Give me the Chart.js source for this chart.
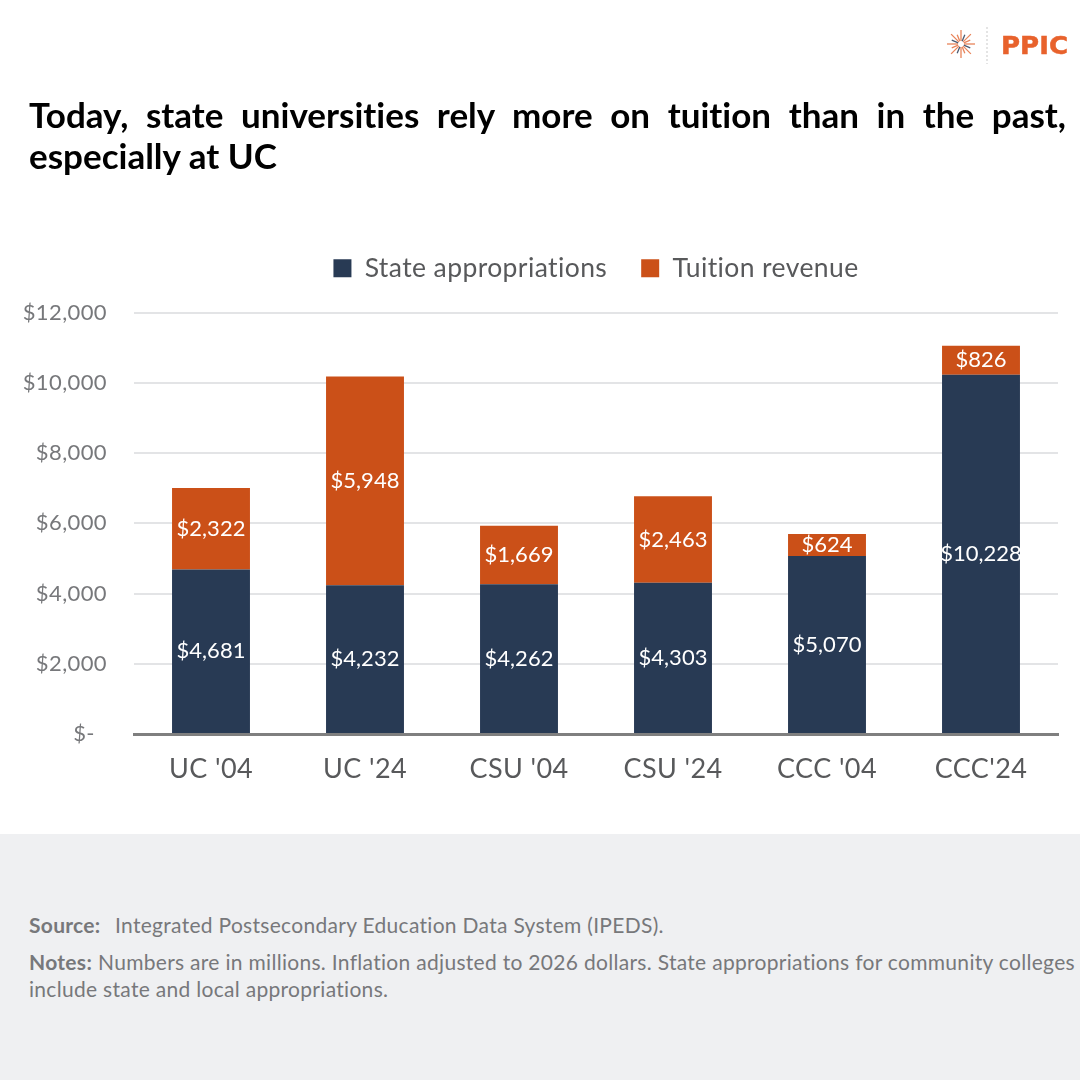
<!DOCTYPE html>
<html>
<head>
<meta charset="utf-8">
<script src="https://cdn.jsdelivr.net/npm/chart.js@4"></script>
<style>
  html, body { margin: 0; padding: 0; background: #fff; }
  body { width: 1080px; height: 1080px; position: relative; overflow: hidden; font-family: Lato, sans-serif; font-variant-ligatures: none; }
  #chartBox { position: absolute; left: 0; top: 0; width: 1080px; height: 834px; }
  #title { position: absolute; left: 29px; top: 94px; width: 1037px; font-size: 35px; line-height: 41px; font-weight: 700; color: #000; text-align: justify; }
  #footer { position: absolute; left: 0; top: 834px; width: 1080px; height: 246px; background: #eff0f2; color: #77787b; font-size: 21px; letter-spacing: .3px; }
  #footer div { position: absolute; left: 29px; width: 1050px; line-height: 27px; }
  #footer b { font-weight: 700; display: inline-block; }
  #logo { position: absolute; left: 940px; top: 20px; }
</style>
</head>
<body>
<div id="chartBox"><canvas id="myChart"></canvas></div>
<div id="title">Today, state universities rely more on tuition than in the past, especially at UC</div>
<svg id="logo" width="140" height="48" viewBox="0 0 140 48">
  <g id="burst" stroke-width="1.3"></g>
  <line x1="47" y1="7" x2="47" y2="44" stroke="#c9c9c9" stroke-dasharray="2 2"></line>
  <text x="61" y="34" font-family="DejaVu Sans" font-weight="700" font-size="25" fill="#e8622c" stroke="#e8622c" stroke-width=".5" textLength="67" lengthAdjust="spacingAndGlyphs">PPIC</text>
</svg>
<div id="footer">
  <div style="top:77px"><b style="width:86px">Source:</b>Integrated Postsecondary Education Data System (IPEDS).</div>
  <div style="top:114px"><b style="width:69px">Notes:</b>Numbers are in millions. Inflation adjusted to 2026 dollars. State appropriations for community colleges include state and local appropriations.</div>
</div>
<script>
const categories = ["UC '04", "UC '24", "CSU '04", "CSU '24", "CCC '04", "CCC'24"];
const stateAppropriations = [4681, 4232, 4262, 4303, 5070, 10228];
const tuitionRevenue = [2322, 5948, 1669, 2463, 624, 826];
const seriesNames = ["State appropriations", "Tuition revenue"];

// the little star in the logo
const burst = document.getElementById("burst");
for (let i = 0; i < 16; i++) {
  const a = i * Math.PI / 8;
  const r = i % 2 ? 10 : 14;
  const l = document.createElementNS("http://www.w3.org/2000/svg", "line");
  l.setAttribute("x1", 21 + Math.cos(a) * 3);
  l.setAttribute("y1", 24 + Math.sin(a) * 3);
  l.setAttribute("x2", 21 + Math.cos(a) * r);
  l.setAttribute("y2", 24 + Math.sin(a) * r);
  l.setAttribute("stroke", i % 4 == 1 ? "#4a5a70" : "#e8845a");
  burst.appendChild(l);
}

function money(v) {
  return v === 0 ? "$-  " : "$" + v.toLocaleString("en-US");
}

// a bit of tracking on the canvas text, the resize wipes it so set it each time
const tracking = {
  id: "tracking",
  beforeLayout(chart) { chart.ctx.letterSpacing = "0.4px"; },
  beforeDraw(chart) { chart.ctx.letterSpacing = "0.4px"; }
};

// more room under the legend
const legendGap = {
  id: "legendGap",
  afterInit(chart) {
    const fit = chart.legend.fit;
    chart.legend.fit = function () {
      fit.call(this);
      this.height += 21;
    };
  }
};

// white value labels in the middle of each bar
const barLabels = {
  id: "barLabels",
  afterDatasetsDraw(chart) {
    const c = chart.ctx;
    c.save();
    c.letterSpacing = "0px";
    c.fillStyle = "#fff";
    c.font = "22px Lato";
    c.textAlign = "center";
    c.textBaseline = "middle";
    chart.data.datasets.forEach(function (ds, i) {
      chart.getDatasetMeta(i).data.forEach(function (bar, j) {
        c.fillText(money(ds.data[j]), bar.x, (bar.y + bar.base) / 2);
      });
    });
    c.restore();
  }
};

const ctx = document.getElementById("myChart").getContext("2d");
new Chart(ctx, {
  type: "bar",
  data: {
    labels: categories,
    datasets: [
      { label: seriesNames[0], data: stateAppropriations, backgroundColor: "#283a54" },
      { label: seriesNames[1], data: tuitionRevenue, backgroundColor: "#cb5018" }
    ]
  },
  options: {
    responsive: true,
    maintainAspectRatio: false,
    animation: false,
    layout: { padding: { top: 221, right: 22, bottom: 0, left: 0 } },
    datasets: { bar: { categoryPercentage: 1, barPercentage: 0.506 } },
    plugins: {
      tooltip: { enabled: false },
      legend: {
        position: "top",
        fullSize: false,
        labels: {
          color: "#58595b",
          font: { family: "Lato", size: 26.5 },
          boxWidth: 18,
          boxHeight: 18,
          padding: 34
        }
      }
    },
    scales: {
      x: {
        stacked: true,
        grid: { display: false },
        border: { color: "#7f7f7f", width: 3 },
        ticks: { color: "#58595b", font: { family: "Lato", size: 27 }, padding: 11, maxRotation: 0 },
        afterFit: function (axis) { axis.height = 100; }
      },
      y: {
        stacked: true,
        min: 0,
        max: 12000,
        grid: { color: "#e3e4e6", lineWidth: 2, drawTicks: false },
        border: { display: false },
        ticks: {
          stepSize: 2000,
          color: "#77787b",
          font: { family: "Lato", size: 22 },
          padding: 27,
          callback: function (v) { return money(v); }
        },
        afterFit: function (axis) { axis.width = 134; }
      }
    }
  },
  plugins: [tracking, legendGap, barLabels]
});
</script>
</body>
</html>
